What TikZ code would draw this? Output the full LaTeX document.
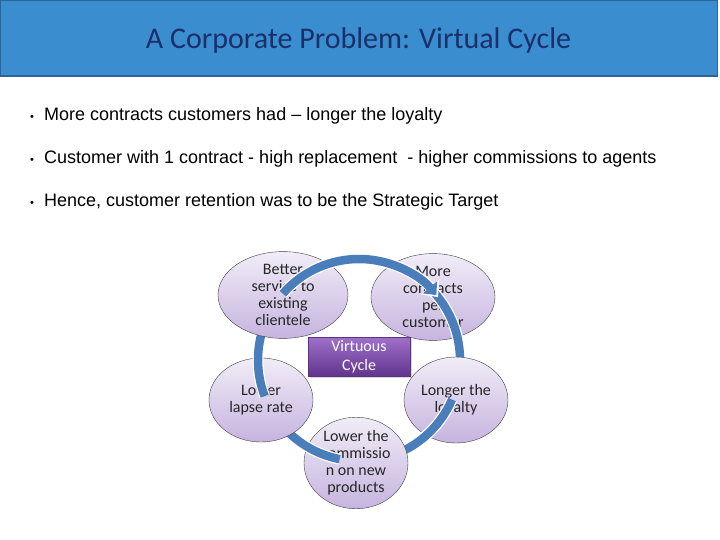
\documentclass[tikz,border=0pt]{standalone}
\usepackage{fontspec}
\setmainfont{Carlito}
\newfontfamily\bulletfont{Liberation Sans}
\usetikzlibrary{shapes.geometric, arrows.meta, calc, shadows}
\definecolor{titleblue}{HTML}{3A8DCE}
\definecolor{titleedge}{HTML}{2F6496}
\definecolor{titletext}{HTML}{1B2F6A}
\definecolor{lavender}{HTML}{C6B4DF}
\definecolor{cycleblue}{HTML}{4A7EBB}
\definecolor{boxtop}{HTML}{9E70CA}
\definecolor{boxbot}{HTML}{6C3A9C}
\newcommand{\pointmark}{\makebox[14pt][l]{\fontsize{11}{11}\selectfont\textbullet}}

\begin{document}
\begin{tikzpicture}[x=1pt, y=-1pt,
    titlebar/.style = {rectangle, draw=titleedge, fill=titleblue, minimum width=717pt, minimum height=76pt, inner sep=0pt, text height=28pt, text depth=6pt, text=titletext, font=\fontsize{30}{34}\selectfont},
    point/.style = {anchor=west, inner sep=0pt, font=\bulletfont\fontsize{18}{21}\selectfont},
    stage/.style = {ellipse, draw=black!75, thin, top color=lavender!25!white, bottom color=lavender, align=center, inner sep=0pt, text=black!85, font=\fontsize{16}{17}\selectfont},
    hubbox/.style = {rectangle, draw=boxbot!85!black, top color=boxtop, bottom color=boxbot!90!black, minimum width=102pt, minimum height=38pt, align=center, text=white, font=\fontsize{16}{18.5}\selectfont, drop shadow={shadow xshift=1.5pt, shadow yshift=-1.5pt, opacity=0.3}},
    ringedge/.style = {line width=11pt, white},
    ring/.style = {line width=8.5pt, cycleblue},
  ]
  \useasboundingbox[fill=white] (0,0) rectangle (720,540);

  % title
  \node[titlebar] (title) at (358.5,38) {A Corporate Problem: Virtual Cycle};
  \draw[titleedge, line width=2.5pt] (title.south west) -- (title.south east);

  % bullets
  \node[point] (pt1) at (30,116) {\pointmark More contracts customers had – longer the loyalty};
  \node[point] (pt2) at (30,159) {\pointmark Customer with 1 contract - high replacement\ \ - higher commissions to agents};
  \node[point] (pt3) at (30,202) {\pointmark Hence, customer retention was to be the Strategic Target};

  % cycle
  \coordinate (hub) at (359,360);
  \node[stage, minimum width=124pt, minimum height=86pt] (more) at (433,297) {More\\contracts\\per\\customer};
  \draw[ringedge] ($(hub)+(-44:101)$) arc[start angle=-44, end angle=20, radius=101];
  \draw[ring] ($(hub)+(-44:101)$) arc[start angle=-44, end angle=20, radius=101];
  \node[stage, minimum width=104pt, minimum height=86pt] (loyal) at (456,400) {Longer the\\loyalty};
  \draw[ringedge] ($(hub)+(23:101)$) arc[start angle=23, end angle=90, radius=101];
  \draw[ring] ($(hub)+(23:101)$) arc[start angle=23, end angle=90, radius=101];
  \node[stage, minimum width=104pt, minimum height=80pt] (commission) at (356,463) {Lower the\\commissio\\n on new\\products};
  \draw[ringedge] ($(hub)+(101:101)$) arc[start angle=101, end angle=158, radius=101];
  \draw[ring] ($(hub)+(101:101)$) arc[start angle=101, end angle=158, radius=101];
  \node[stage, minimum width=104pt, minimum height=84pt] (lapse) at (261,400) {Lower\\lapse rate};
  \draw[ringedge] ($(hub)+(159:101)$) arc[start angle=159, end angle=215, radius=101];
  \draw[ring] ($(hub)+(159:101)$) arc[start angle=159, end angle=215, radius=101];
  \node[stage, minimum width=130pt, minimum height=84pt] (service) at (283,295) {Better\\service to\\existing\\clientele};
  \draw[ringedge, -{Triangle[length=13pt, width=23pt]}] ($(hub)+(-139:101)$) arc[start angle=-139, end angle=-38.5, radius=101];
  \draw[ring, -{Triangle[length=10pt, width=18pt]}] ($(hub)+(-139:101)$) arc[start angle=-139, end angle=-40, radius=101];

  \node[hubbox] (virtuous) at (359,357) {Virtuous\\Cycle};
\end{tikzpicture}
\end{document}
